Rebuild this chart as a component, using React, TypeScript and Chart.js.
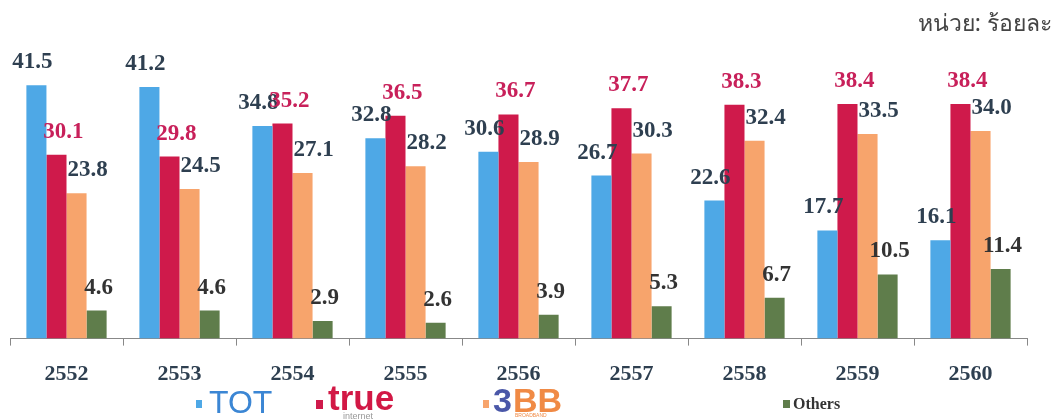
import React, { useEffect, useRef } from "react";
import { Chart, registerables } from "chart.js";

Chart.register(...registerables);

const years = ["2552", "2553", "2554", "2555", "2556", "2557", "2558", "2559", "2560"];
const totValues = [41.5, 41.2, 34.8, 32.8, 30.6, 26.7, 22.6, 17.7, 16.1];
const trueValues = [30.1, 29.8, 35.2, 36.5, 36.7, 37.7, 38.3, 38.4, 38.4];
const bbValues = [23.8, 24.5, 27.1, 28.2, 28.9, 30.3, 32.4, 33.5, 34.0];
const otherValues = [4.6, 4.6, 2.9, 2.6, 3.9, 5.3, 6.7, 10.5, 11.4];
const seriesNames = ["TOT", "true", "3BB", "Others"];
const unitText = "หน่วย: ร้อยละ";

const COLORS = ["#4ea8e6", "#cf1a4b", "#f7a46c", "#5f7d4b"];
const LABEL_COLORS = ["#2e3f50", "#c8205a", "#2e3f50", "#333333"];
const LABEL_DX = [-4, 7, 11, 2];
const SERIF = '"Liberation Serif", "Times New Roman", serif';

const labelPlugin = {
  id: "valueLabels",
  afterDatasetsDraw(chart: any) {
    const ctx = chart.ctx;
    ctx.save();
    ctx.font = `bold 23px ${SERIF}`;
    ctx.textAlign = "center";
    ctx.textBaseline = "alphabetic";
    chart.data.datasets.forEach((ds: any, di: number) => {
      const meta = chart.getDatasetMeta(di);
      meta.data.forEach((el: any, i: number) => {
        const v = ds.data[i] as number;
        ctx.fillStyle = LABEL_COLORS[di];
        ctx.fillText(v.toFixed(1), el.x + LABEL_DX[di], el.y - 17);
      });
    });
    ctx.restore();
  },
};

const decorPlugin = {
  id: "decor",
  afterDraw(chart: any) {
    const ctx = chart.ctx;
    ctx.save();
    // unit text
    ctx.font = `23px "Noto Sans", "DejaVu Sans", sans-serif`;
    ctx.fillStyle = "#444";
    ctx.textAlign = "right";
    ctx.textBaseline = "middle";
    ctx.fillText(unitText, 1052, 24);

    const y = 404;
    // TOT
    ctx.fillStyle = COLORS[0];
    ctx.fillRect(196, y - 4, 6, 8);
    ctx.textAlign = "left";
    ctx.textBaseline = "middle";
    ctx.font = `32px "Liberation Sans", Arial, sans-serif`;
    ctx.fillStyle = "#3b86d4";
    ctx.fillText(seriesNames[0], 209, y);

    // true
    ctx.fillStyle = COLORS[1];
    ctx.fillRect(316, y - 4, 7, 9);
    ctx.font = `bold 35px "Liberation Sans", Arial, sans-serif`;
    ctx.fillStyle = "#d21845";
    ctx.fillText(seriesNames[1], 328, y - 4);
    ctx.font = `9px "Liberation Sans", Arial, sans-serif`;
    ctx.fillStyle = "#999";
    ctx.fillText("internet", 343, y + 13);

    // 3BB
    ctx.fillStyle = COLORS[2];
    ctx.fillRect(483, y - 4, 6, 8);
    ctx.font = `bold 34px "Liberation Sans", Arial, sans-serif`;
    ctx.fillStyle = "#4a57a8";
    ctx.fillText("3", 493, y - 1);
    const w3 = ctx.measureText("3").width;
    ctx.fillStyle = "#f08a45";
    ctx.fillText("BB", 493 + w3 + 1, y - 1);
    ctx.font = `5px "Liberation Sans", Arial, sans-serif`;
    ctx.fillText("BROADBAND", 515, y + 12);

    // Others
    ctx.fillStyle = COLORS[3];
    ctx.fillRect(783, y - 4, 7, 8);
    ctx.font = `bold 16px ${SERIF}`;
    ctx.fillStyle = "#333";
    ctx.fillText(seriesNames[3], 793, y + 1);
    ctx.restore();
  },
};

export default function App() {
  const ref = useRef<HTMLCanvasElement | null>(null);
  useEffect(() => {
    if (!ref.current) return;
    const mk = (label: string, data: number[], i: number) => ({
      label,
      data,
      backgroundColor: COLORS[i],
      borderWidth: 0,
      barPercentage: 1.0,
      categoryPercentage: 0.71,
    });
    const chart = new Chart(ref.current, {
      type: "bar",
      data: {
        labels: years,
        datasets: [
          mk(seriesNames[0], totValues, 0),
          mk(seriesNames[1], trueValues, 1),
          mk(seriesNames[2], bbValues, 2),
          mk(seriesNames[3], otherValues, 3),
        ],
      },
      options: {
        responsive: false,
        animation: false,
        layout: { padding: { left: 10, right: 32, top: 21, bottom: 16 } },
        plugins: {
          legend: { display: false },
          tooltip: { enabled: false },
          title: { display: false },
        },
        scales: {
          x: {
            grid: {
              display: true,
              drawOnChartArea: false,
              drawTicks: true,
              tickLength: 7,
              color: "#888",
              offset: true,
            },
            border: { display: true, color: "#888", width: 1 },
            ticks: {
              color: "#2e3f50",
              font: { family: SERIF, size: 22, weight: "bold" },
              padding: 16,
            },
          },
          y: {
            display: false,
            min: 0,
            max: 52,
          },
        },
      },
      plugins: [labelPlugin, decorPlugin],
    });
    return () => chart.destroy();
  }, []);
  return (
    <div style={{ position: "absolute", left: 0, top: 0, width: 1059, height: 420, background: "#fff" }}>
      <canvas ref={ref} width={1059} height={420} style={{ display: "block" }} />
    </div>
  );
}
